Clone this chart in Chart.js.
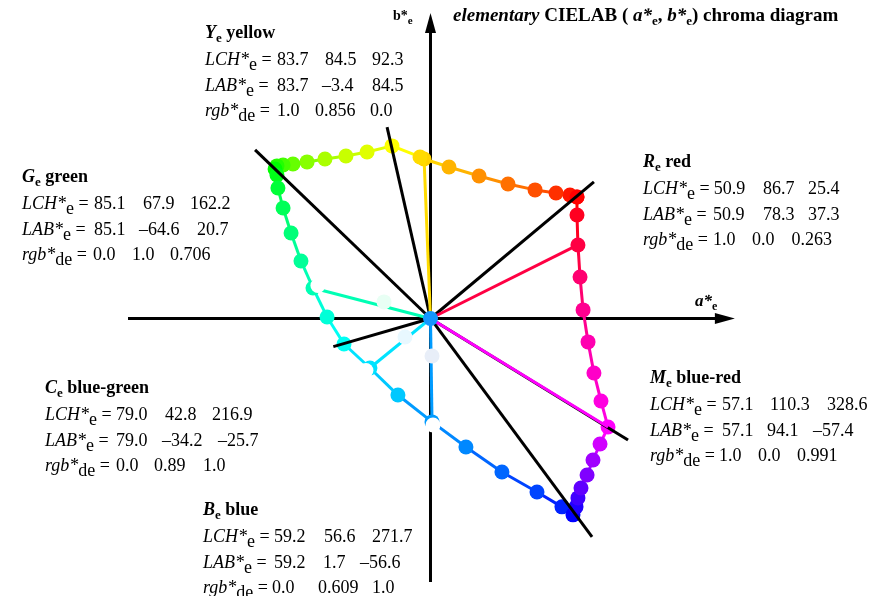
<!DOCTYPE html>
<html>
<head>
<meta charset="utf-8">
<script src="https://cdn.jsdelivr.net/npm/chart.js@4/dist/chart.umd.min.js"></script>
<style>
  html, body { margin: 0; padding: 0; background: #fff; }
  #caja { position: relative; width: 869px; height: 596px; }
</style>
</head>
<body>
<div id="caja"><canvas id="grafico"></canvas></div>
<script>
// hue circle (a*, b*), closed at red
const hueA = [76.9, 73.2, 65.9, 54.9, 40.7, 25.5, 9.7, -3.4, -5.5, -20.2, -33.3, -44.4, -55.4, -64.8, -72.2, -77.4,
  -80.6, -81.6, -80.6, -80.1, -77.4, -73.2, -68.0, -61.7, -54.3, -45.4, -31.8, -17.1, 0.8, 18.6, 37.5, 55.9,
  69.0, 74.8, 76.4, 77.4, 79.0, 82.2, 85.3, 89.0, 93.2, 89.5, 85.8, 82.7, 80.1, 78.5, 77.4, 76.9, 76.9];
const hueB = [63.8, 64.8, 65.9, 67.5, 70.6, 74.8, 79.5, 83.7, 84.8, 90.6, 87.4, 85.3, 83.7, 82.2, 81.1, 80.6,
  80.1, 78.5, 75.3, 68.5, 58.0, 44.9, 30.2, 16.0, 0.8, -13.4, -26.0, -40.2, -54.3, -67.5, -80.6, -91.1,
  -98.9, -103.1, -98.9, -94.2, -89.0, -82.2, -74.3, -65.9, -57.0, -43.3, -28.6, -12.3, 4.5, 21.8, 38.6, 54.3, 63.8];
const hueColors = ["#ff0000", "#ff1500", "#ff3000", "#ff5000", "#ff7000", "#ff9000", "#ffb400", "#ffd200", "#ffdb00",
  "#ffff00", "#e0ff00", "#c8ff00", "#aaff00", "#88ff00", "#66ff00", "#44ff00", "#22ff00", "#00ff00", "#00ff18",
  "#00ff38", "#00ff58", "#00ff78", "#00ff98", "#00ffb4", "#00ffd8", "#00fff4", "#00e3ff", "#00c8ff", "#009bff",
  "#0088ff", "#0066ff", "#0044ff", "#0022ff", "#0000ff", "#2000ff", "#4000ff", "#6000ff", "#8000ff", "#a000ff",
  "#d000ff", "#ff00fd", "#ff00e0", "#ff00c8", "#ff00b0", "#ff0090", "#ff0070", "#ff0043", "#ff0020", "#ff0000"];

// elementary hues R Y G C B M (line ends from the origin)
const elemA = [77.4, -3.4, -61.7, -31.8, 0.8, 93.2];
const elemB = [38.6, 84.5, 16.0, -26.0, -54.3, -57.0];
const elemColors = ["#ff0043", "#ffdb00", "#00ffb4", "#00e3ff", "#009bff", "#ff00fd"];

// pale points on the G, C, B lines and white spots on the G, C, B ends
const paleA = [-24.4, -13.4, 0.8];
const paleB = [8.7, -9.7, -19.7];
const paleColors = ["#e8fff4", "#e8f8ff", "#e8eef8"];
const spotA = [-59.1, -33.9, 1.3];
const spotB = [17.3, -27.3, -55.9];

// black lines from the origin
const rayA = [-92.1, -22.8, 85.8, 103.7, 84.8, -51.0];
const rayB = [88.5, 100.5, 71.7, -63.8, -114.7, -14.8];

// axes ranges (tips of arrows)
const ejeX = [-158.8, 159.8];
const ejeY = [-138.3, 160.4];

// text blocks
const bloqLetra = ["Y", "R", "G", "C", "M", "B"];
const bloqNombre = ["yellow", "red", "green", "blue-green", "blue-red", "blue"];
const valLCH = [["83.7", "84.5", "92.3"], ["50.9", "86.7", "25.4"], ["85.1", "67.9", "162.2"],
  ["79.0", "42.8", "216.9"], ["57.1", "110.3", "328.6"], ["59.2", "56.6", "271.7"]];
const valLAB = [["83.7", "\u20133.4", "84.5"], ["50.9", "78.3", "37.3"], ["85.1", "\u201364.6", "20.7"],
  ["79.0", "\u201334.2", "\u201325.7"], ["57.1", "94.1", "\u201357.4"], ["59.2", "1.7", "\u201356.6"]];
const valRGB = [["1.0", "0.856", "0.0"], ["1.0", "0.0", "0.263"], ["0.0", "1.0", "0.706"],
  ["0.0", "0.89", "1.0"], ["1.0", "0.0", "0.991"], ["0.0", "0.609", "1.0"]];

// layout of the text blocks
const bloqX = [205, 643, 22, 45, 650, 203];
const bloqY = [38, 167, 182, 393, 383, 515];
const colsLCH = [[72, 120, 167], [70, 120, 165], [72, 121, 168], [71, 120, 167], [72, 120, 177], [71, 121, 169]];
const colsLAB = [[72, 117, 167], [70, 120, 165], [72, 117, 175], [71, 117, 173], [72, 117, 163], [71, 120, 157]];
const colsRGB = [[72, 110, 165], [70, 109, 148.5], [71, 110, 148], [71, 109, 158], [68, 108, 147], [69, 115, 169]];

const SERIF = "'Liberation Serif', 'Times New Roman', serif";
const puntos = (xs, ys) => xs.map((x, i) => ({ x: x, y: ys[i] }));

const datasets = [];

// ejes
datasets.push({ data: [{ x: ejeX[0], y: 0 }, { x: ejeX[1] - 6, y: 0 }], showLine: true, borderColor: "#000",
  borderWidth: 3, pointRadius: 0, order: 10 });
datasets.push({ data: [{ x: 0, y: ejeY[0] }, { x: 0, y: ejeY[1] - 6 }], showLine: true, borderColor: "#000",
  borderWidth: 3, pointRadius: 0, order: 10 });

// circulo de tonos
datasets.push({
  data: puntos(hueA, hueB), showLine: true, borderWidth: 3,
  segment: { borderColor: ctx => hueColors[ctx.p1DataIndex] },
  pointRadius: 7.5, pointBackgroundColor: hueColors, pointBorderWidth: 0, order: 8
});

// lineas negras
rayA.forEach((a, i) => {
  datasets.push({ data: [{ x: 0, y: 0 }, { x: a, y: rayB[i] }], showLine: true, borderColor: "#000",
    borderWidth: 3, pointRadius: 0, order: 7 });
});

// lineas de colores elementales
elemA.forEach((a, i) => {
  datasets.push({ data: [{ x: 0, y: 0 }, { x: a, y: elemB[i] }], showLine: true, borderColor: elemColors[i],
    borderWidth: 3, pointRadius: 0, order: 6 });
});

datasets.push({ data: puntos(paleA, paleB), pointRadius: 7.5, pointBackgroundColor: paleColors,
  pointBorderWidth: 0, order: 5 });
datasets.push({ data: puntos(spotA, spotB), pointRadius: 7.5, pointBackgroundColor: "#ffffff",
  pointBorderWidth: 0, order: 4 });
datasets.push({ data: [{ x: 0, y: 0 }], pointRadius: 7.5, pointBackgroundColor: "#1496ff",
  pointBorderWidth: 0, order: 3 });

function runs(ctx, x, y, partes) {
  partes.forEach(([txt, font, dy]) => {
    ctx.font = font;
    ctx.fillText(txt, x, y + (dy || 0));
    x += ctx.measureText(txt).width;
  });
  return x;
}

const textos = {
  id: "textos",
  afterDraw(chart) {
    const ctx = chart.ctx;
    const sx = chart.scales.x, sy = chart.scales.y;
    ctx.save();
    ctx.fillStyle = "#000";
    ctx.textBaseline = "alphabetic";

    // puntas de flecha
    const x0 = sx.getPixelForValue(0), y0 = sy.getPixelForValue(0);
    const tx = sx.getPixelForValue(ejeX[1]), ty = sy.getPixelForValue(ejeY[1]);
    ctx.beginPath();
    ctx.moveTo(tx, y0); ctx.lineTo(tx - 20, y0 - 5.5); ctx.lineTo(tx - 20, y0 + 5.5); ctx.closePath(); ctx.fill();
    ctx.beginPath();
    ctx.moveTo(x0, ty); ctx.lineTo(x0 - 5.5, ty + 20); ctx.lineTo(x0 + 5.5, ty + 20); ctx.closePath(); ctx.fill();

    // titulo
    const B = "bold 19px " + SERIF, BI = "italic bold 19px " + SERIF, BS = "bold 13px " + SERIF;
    runs(ctx, 453, 21, [["elementary", BI], [" CIELAB ( ", B], ["a*", BI], ["e", BS, 4], [", ", B],
      ["b*", BI], ["e", BS, 4], [") chroma diagram", B]]);

    // rotulos de ejes
    runs(ctx, 393, 20, [["b*", "bold 14px " + SERIF], ["e", "bold 11px " + SERIF, 4]]);
    runs(ctx, 695, 306, [["a*", "italic bold 17px " + SERIF], ["e", "bold 12px " + SERIF, 4]]);

    // bloques
    const N = "18px " + SERIF, I = "italic 18px " + SERIF;
    bloqLetra.forEach((letra, k) => {
      const bx = bloqX[k], by = bloqY[k];
      runs(ctx, bx, by, [[letra, "italic bold 18px " + SERIF], ["e", "bold 13px " + SERIF, 4],
        [" " + bloqNombre[k], "bold 18px " + SERIF]]);
      const filas = [
        [[["LCH*", I], ["e", N, 5], [" =", N]], valLCH[k], colsLCH[k]],
        [[["LAB*", I], ["e", N, 5], [" =", N]], valLAB[k], colsLAB[k]],
        [[["rgb*", I], ["de", N, 5], [" =", N]], valRGB[k], colsRGB[k]]
      ];
      const dys = [27, 52.5, 78];
      filas.forEach(([pref, vals, cols], r) => {
        const yy = by + dys[r];
        let fin = runs(ctx, bx, yy, pref) + 4;
        ctx.font = N;
        vals.forEach((v, j) => {
          const xv = Math.max(bx + cols[j], fin);
          ctx.fillText(v, xv, yy);
          fin = xv + ctx.measureText(v).width + 5;
        });
      });
    });
    ctx.restore();
  }
};

new Chart(document.getElementById("grafico"), {
  type: "scatter",
  data: { datasets: datasets },
  options: {
    responsive: true,
    maintainAspectRatio: false,
    animation: false,
    layout: { padding: 0, autoPadding: false },
    plugins: { legend: { display: false }, tooltip: { enabled: false } },
    scales: {
      x: { type: "linear", min: -226.0, max: 230.2, display: false },
      y: { type: "linear", min: -145.7, max: 167.2, display: false }
    }
  },
  plugins: [textos]
});
</script>
</body>
</html>
